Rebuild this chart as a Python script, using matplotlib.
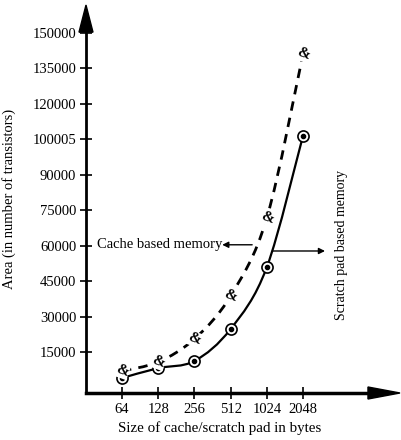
import numpy as np
import matplotlib
matplotlib.use("Agg")
import matplotlib.pyplot as plt
from matplotlib.path import Path
from matplotlib.patches import PathPatch, Polygon

# sizes in bytes (x axis is log2 spaced)
sizes = [64, 128, 256, 512, 1024, 2048]
scratch_area = [4200, 8400, 11400, 24900, 51000, 106500]
cache_area = [7200, 11000, 20700, 38900, 71800, 141000]

ytick_vals = [15000, 30000, 45000, 60000, 75000, 90000, 105000, 120000, 135000, 150000]
ytick_labels = ["15000", "30000", "45000", "60000", "75000", "90000", "100005",
                "120000", "135000", "150000"]

plt.rcParams['font.family'] = ['Liberation Serif', 'DejaVu Serif']


def smooth_path(xs, ys):
    # catmull-rom through the points, drawn as bezier segments
    pts = np.column_stack([xs, ys]).astype(float)
    ext = np.vstack([pts[0], pts, pts[-1]])
    verts = [pts[0]]
    codes = [Path.MOVETO]
    for i in range(1, len(ext) - 2):
        p0, p1, p2, p3 = ext[i - 1], ext[i], ext[i + 1], ext[i + 2]
        c1 = p1 + (p2 - p0) / 6.0
        c2 = p2 - (p3 - p1) / 6.0
        verts += [c1, c2, p2]
        codes += [Path.CURVE4] * 3
    return Path(verts, codes)


fig = plt.figure(figsize=(4.02, 4.40), dpi=100)
W, H = 402, 440
ax = fig.add_axes([86 / W, 47 / H, 314 / W, 388 / H])

x = np.log2(sizes)

ax.add_patch(PathPatch(smooth_path(x, scratch_area), fill=False, lw=1.6, color='black'))
ax.add_patch(PathPatch(smooth_path(x, cache_area), fill=False, lw=2.0, color='black',
                       linestyle=(0, (3.4, 2.6))))
ax.plot(x, scratch_area, linestyle='none', marker='o', markersize=8,
        markerfacecolor='white', markeredgecolor='black', markeredgewidth=1.2)
ax.plot(x, scratch_area, linestyle='none', marker='o', markersize=3, color='black')
for xi, yi in zip(x, cache_area):
    ax.text(xi, yi, "&", fontsize=11, fontweight='bold', ha='center', va='center',
            rotation=-20, bbox=dict(boxstyle='square,pad=0.05', fc='white', ec='none'))

ax.set_xlim(5.006, 13.68)
ax.set_ylim(-2113, 161800)

ax.set_xticks(x)
ax.set_xticklabels([str(s) for s in sizes])
ax.set_yticks(ytick_vals)
ax.set_yticklabels(ytick_labels)
ax.tick_params(direction='inout', length=8, width=1.2, labelsize=10.5, pad=3)

for s in ['top', 'right']:
    ax.spines[s].set_visible(False)
ax.spines['left'].set_linewidth(2)
ax.spines['bottom'].set_linewidth(2.5)
ax.spines['left'].set_bounds(-2113, 150000)
ax.spines['bottom'].set_bounds(5.006, 13.0)

# arrow heads on the axes
ax.add_patch(Polygon([[0.0, 1.0], [-0.0223, 0.93], [0.0223, 0.93]], closed=True,
                     transform=ax.transAxes, color='black', clip_on=False))
ax.add_patch(Polygon([[1.0, 0.0], [0.898, 0.0155], [0.898, -0.0155]], closed=True,
                     transform=ax.transAxes, color='black', clip_on=False))

ax.set_xlabel("Size of cache/scratch pad in bytes", fontsize=10.8)
ax.xaxis.set_label_coords((220 - 86) / 314, -28 / 388)
ax.set_ylabel("Area (in number of transistors)", fontsize=10.5, labelpad=12)

# labels for the two curves
ax.text(0.035, 0.382, "Cache based memory", transform=ax.transAxes,
        fontsize=10.5, va='center', ha='left')
ax.annotate("", xy=(0.425, 0.382), xytext=(0.538, 0.382), xycoords='axes fraction',
            arrowprops=dict(arrowstyle='-|>', lw=1.0, color='black', mutation_scale=9))
ax.annotate("", xy=(0.77, 0.366), xytext=(0.585, 0.366), xycoords='axes fraction',
            arrowprops=dict(arrowstyle='-|>', lw=1.0, color='black', mutation_scale=9))
fig.text(342 / W, 1 - 245 / H, "Scratch pad based memory", rotation=90,
         fontsize=10, va='center', ha='center')

fig.savefig("out.png", dpi=100)
